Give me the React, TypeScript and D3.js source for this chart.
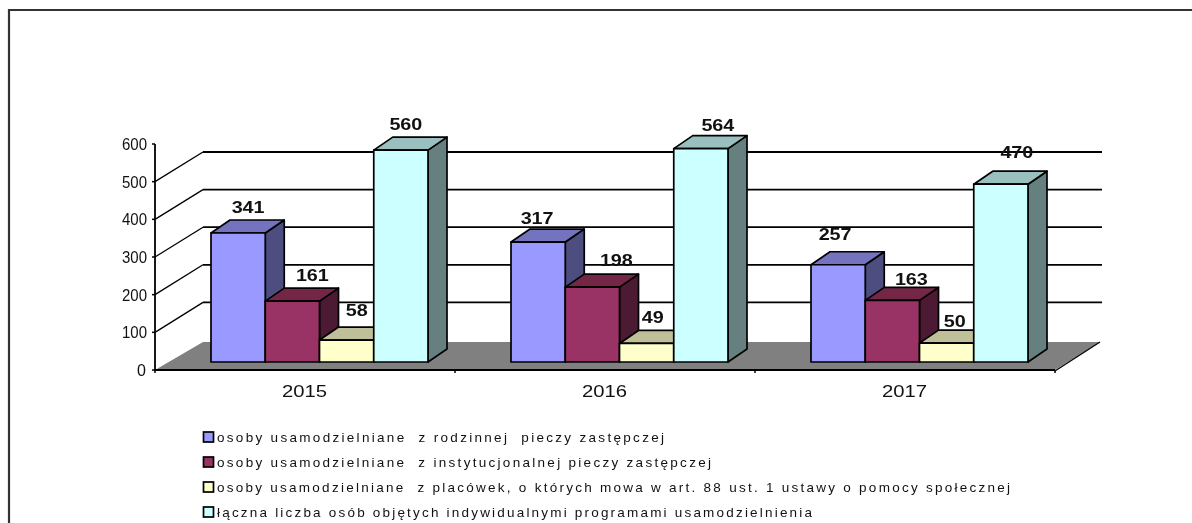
import React from "react";
import * as d3 from "d3";

const years = ["2015", "2016", "2017"];
const seriesNames = [
  "osoby usamodzielniane  z rodzinnej  pieczy zastępczej",
  "osoby usamodzielniane  z instytucjonalnej pieczy zastępczej",
  "osoby usamodzielniane  z placówek, o których mowa w art. 88 ust. 1 ustawy o pomocy społecznej",
  "łączna liczba osób objętych indywidualnymi programami usamodzielnienia",
];
const rodzinna = [341, 317, 257];
const instytucjonalna = [161, 198, 163];
const placowki = [58, 49, 50];
const laczna = [560, 564, 470];
const seriesValues = [rodzinna, instytucjonalna, placowki, laczna];
const frontColors = ["#9999ff", "#993366", "#ffffcc", "#ccffff"];
const topColors = ["#7373bf", "#732646", "#bfbf99", "#99bfbf"];
const sideColors = ["#4d4d80", "#4d1a33", "#808066", "#668080"];
const axisTicks = [0, 100, 200, 300, 400, 500, 600];
const gridTicks = [100, 200, 300, 400, 500];
// label nudges [dx from bar centre, dy from bar top], by series then year
const labelNudges = [
  [[10, -21], [-1, -19], [-3, -26]],
  [[20, -21], [24, -22], [19, -16]],
  [[10, -25], [6, -21], [8, -17]],
  [[5, -21], [17, -19], [16, -27]],
];
const legendWidths = [447, 494, 793, 595];

const depthX = 19;
const depthY = 13;
const floorX = 48;
const floorRight = 1100;
const floorBack = 342;

const x = d3.scaleBand<string>().domain(years).range([155, 1055]);
const inner = d3.scaleBand<number>().domain([0, 1, 2, 3]).range([56, 273]);
const barY = d3.scaleLinear().domain([0, 600]).range([362, 135]);
const frontY = d3.scaleLinear().domain([0, 600]).range([370, 144]);
const backY = d3.scaleLinear().domain([0, 600]).range([340, 114.4]);

const FONT = "'Liberation Sans', Arial, sans-serif";
const pts = (p: number[][]) => p.map((q) => q.join(",")).join(" ");

export default function App() {
  const x0 = 155;
  const x1 = 1055;
  const base = barY(0);
  return (
    <svg
      width={1192}
      height={523}
      style={{ position: "absolute", left: 0, top: 0, display: "block", background: "#fff", filter: "blur(0.6px)" }}
      fontFamily={FONT}
    >
      <path d="M9,523V10H1192" fill="none" stroke="#333" strokeWidth={2.2} />

      {gridTicks.map((t) => (
        <g key={t} stroke="#000">
          <line x1={x0 + floorX} x2={floorRight + 2} y1={backY(t)} y2={backY(t)} strokeWidth={1.8} />
          <line x1={x0} x2={x0 + floorX} y1={frontY(t)} y2={backY(t)} strokeWidth={1.3} />
        </g>
      ))}

      <polygon
        points={pts([[x0, frontY(0)], [x0 + floorX, floorBack], [floorRight, floorBack], [x1, frontY(0)]])}
        fill="#808080"
      />
      <line x1={x1} y1={frontY(0) + 1} x2={floorRight} y2={floorBack} stroke="#000" strokeWidth={1.3} />

      <line x1={x0} x2={x0} y1={frontY(600)} y2={frontY(0)} stroke="#000" strokeWidth={1.8} />
      <line x1={x0} x2={x1} y1={frontY(0)} y2={frontY(0)} stroke="#000" strokeWidth={1.8} />
      {axisTicks.map((t) => (
        <g key={t}>
          <line x1={x0 - 3} x2={x0} y1={frontY(t)} y2={frontY(t)} stroke="#000" strokeWidth={1.5} />
          <text
            x={t === 0 ? 146 : 122}
            y={frontY(t) + 6}
            fontSize={16}
            fill="#111"
            textLength={t === 0 ? undefined : 25}
            lengthAdjust="spacingAndGlyphs"
            textAnchor={t === 0 ? "end" : "start"}
          >
            {t}
          </text>
        </g>
      ))}
      {[...years.map((y) => x(y) as number), x1].map((v) => (
        <line key={v} x1={v} x2={v} y1={frontY(0)} y2={frontY(0) + 3} stroke="#000" strokeWidth={1.5} />
      ))}

      {years.map((yr, i) => {
        const gx = x(yr) as number;
        return (
          <g key={yr}>
            {seriesValues.map((vals, s) => {
              const bx = gx + (inner(s) as number);
              const bw = inner.bandwidth();
              const top = barY(vals[i]);
              return (
                <g key={s} stroke="#000" strokeWidth={1.7} strokeLinejoin="round">
                  <polygon
                    points={pts([[bx + bw, base], [bx + bw + depthX, base - depthY], [bx + bw + depthX, top - depthY], [bx + bw, top]])}
                    fill={sideColors[s]}
                  />
                  <polygon
                    points={pts([[bx, top], [bx + depthX, top - depthY], [bx + bw + depthX, top - depthY], [bx + bw, top]])}
                    fill={topColors[s]}
                  />
                  <rect x={bx} y={top} width={bw} height={base - top} fill={frontColors[s]} />
                </g>
              );
            })}
            <text
              x={gx + 150 - 23}
              y={397}
              fontSize={16}
              fill="#111"
              textLength={45}
              lengthAdjust="spacingAndGlyphs"
            >
              {yr}
            </text>
          </g>
        );
      })}

      {years.map((yr, i) =>
        seriesValues.map((vals, s) => {
          const gx = x(yr) as number;
          const w = s === 2 ? 22 : 33;
          const cx = gx + (inner(s) as number) + inner.bandwidth() / 2 + labelNudges[s][i][0];
          const cy = barY(vals[i]) + labelNudges[s][i][1];
          return (
            <text
              key={`${yr}-${s}`}
              x={cx - w / 2}
              y={cy + 1}
              fontSize={16}
              fontWeight={700}
              fill="#111"
              textLength={w}
              lengthAdjust="spacingAndGlyphs"
            >
              {vals[i]}
            </text>
          );
        })
      )}

      {seriesNames.map((name, s) => {
        const ly = 437 + s * 25;
        return (
          <g key={name}>
            <rect x={203.5} y={ly - 5} width={10} height={10} fill={frontColors[s]} stroke="#000" strokeWidth={1.7} />
            <text
              x={217}
              y={ly + 5}
              fontSize={13.5}
              fill="#111"
              textLength={legendWidths[s]}
              lengthAdjust="spacing"
              xmlSpace="preserve"
            >
              {name}
            </text>
          </g>
        );
      })}
    </svg>
  );
}
